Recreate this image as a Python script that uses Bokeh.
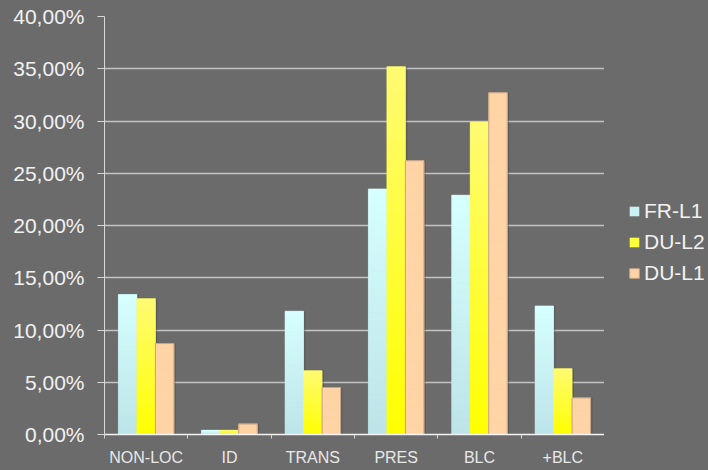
import numpy as np
from bokeh.plotting import figure
from bokeh.layouts import row
from bokeh.models import Range1d, FixedTicker, Legend, LegendItem
from bokeh.embed import file_html
from bokeh.resources import INLINE

# Share of each category per learner group (percent)
categories = ["NON-LOC", "ID", "TRANS", "PRES", "BLC", "+BLC"]
series_names = ["FR-L1", "DU-L2", "DU-L1"]
fr_l1 = [13.4, 0.4, 11.8, 23.5, 22.9, 12.3]
du_l2 = [13.0, 0.4, 6.1, 35.2, 29.9, 6.3]
du_l1 = [8.7, 1.0, 4.5, 26.2, 32.7, 3.5]
y_ticks = [0, 5, 10, 15, 20, 25, 30, 35, 40]

# gradient colours per series: (bottom, top)
grad = [("#bde4e8", "#d6ffff"), ("#ffff00", "#fffb72"), ("#ffd4a6", "#ffd4a6")]
mid = ["#c9f2f4", "#ffff3c", "#ffd4a6"]
edge = [None, None, "#c4a385"]

BG = "#6b6b6b"
FONT = "Liberation Sans"


def hex_to_rgb(h):
    h = h.lstrip("#")
    return np.array([int(h[i:i + 2], 16) for i in (0, 2, 4)], dtype=float)


def blend(c0, c1, t):
    c = hex_to_rgb(c0) * (1 - t) + hex_to_rgb(c1) * t
    return "#%02x%02x%02x" % tuple(int(round(v)) for v in c)


p = figure(width=604, height=470, output_backend="svg", toolbar_location=None,
           x_range=Range1d(0, len(categories)), y_range=Range1d(0, 40),
           min_border_left=104, min_border_right=0, min_border_top=16,
           min_border_bottom=36)
p.background_fill_color = BG
p.border_fill_color = BG
p.outline_line_color = None

# grid
p.xgrid.grid_line_color = None
p.ygrid.ticker = FixedTicker(ticks=y_ticks)
p.ygrid.grid_line_color = "#c2c2c2"
p.ygrid.grid_line_width = 1.5

# y axis
yax = p.yaxis[0]
yax.ticker = FixedTicker(ticks=y_ticks)
yax.major_label_overrides = {t: ("%.2f" % t).replace(".", ",") + "%" for t in y_ticks}
yax.axis_line_color = "#d8d8d8"
yax.major_tick_line_color = "#d8d8d8"
yax.major_tick_out = 7
yax.major_tick_in = 0
yax.minor_tick_line_color = None
yax.major_label_standoff = 13
yax.major_label_text_font = FONT
yax.major_label_text_font_size = "21px"
yax.major_label_text_color = "#f2f2f2"

# x axis: labels at group centres, small ticks at group boundaries
n = len(categories)
xax = p.xaxis[0]
centres = [i + 0.5 for i in range(n)]
xax.ticker = FixedTicker(ticks=centres, minor_ticks=list(range(n + 1)))
xax.major_label_overrides = {c: lab for c, lab in zip(centres, categories)}
xax.major_tick_out = 0
xax.major_tick_in = 0
xax.minor_tick_out = 4
xax.minor_tick_in = 0
xax.minor_tick_line_color = "#d8d8d8"
xax.axis_line_color = "#f4f4f4"
xax.axis_line_width = 1.5
xax.major_label_standoff = 10
xax.major_label_text_font = FONT
xax.major_label_text_font_size = "16px"
xax.major_label_text_color = "#e8e8e8"

bar_w = 0.222
all_series = [fr_l1, du_l2, du_l1]
N_SLICES = 30

for j, vals in enumerate(all_series):
    x_c = np.array([i + 0.5 + (j - 1) * bar_w for i in range(n)])
    left = x_c - bar_w / 2
    right = x_c + bar_w / 2
    vals = np.array(vals, dtype=float)
    # soft shadow on the right of each bar
    p.quad(left=left + 0.022, right=right + 0.022, bottom=0, top=vals,
           fill_color="#3c3c3c", fill_alpha=0.35, line_color=None)
    # full bar in its base colour
    p.quad(left=left, right=right, bottom=0, top=vals,
           fill_color=mid[j], line_color=None)
    # vertical gradient drawn as thin slices of each bar
    L, R, B, T, C = [], [], [], [], []
    for i in range(n):
        for k in range(N_SLICES):
            L.append(left[i]); R.append(right[i])
            B.append(vals[i] * k / N_SLICES)
            T.append(vals[i] * (k + 1) / N_SLICES)
            C.append(blend(grad[j][0], grad[j][1], (k + 0.5) / N_SLICES))
    p.quad(left=L, right=R, bottom=B, top=T, fill_color=C, line_color=C, line_width=0.6)
    if edge[j]:
        p.quad(left=left, right=right, bottom=0, top=vals, fill_alpha=0,
               line_color=edge[j], line_width=1)

# side panel holding the legend
lg = figure(width=104, height=470, output_backend="svg", toolbar_location=None,
            x_range=Range1d(0, 1), y_range=Range1d(0, 1),
            min_border_left=0, min_border_right=0, min_border_top=0,
            min_border_bottom=0)
lg.background_fill_color = BG
lg.border_fill_color = BG
lg.outline_line_color = None
lg.axis.visible = False
lg.grid.grid_line_color = None

# swatch proxies: one quad per series, placed outside the visible range
items = []
for j, name in enumerate(series_names):
    r = lg.quad(left=[-3], right=[-2], bottom=[-3], top=[-2], fill_color=mid[j],
                line_color=edge[j])
    items.append(LegendItem(label=name, renderers=[r]))

legend = Legend(items=items, location=(24, 149),
                background_fill_alpha=0, border_line_color=None,
                padding=0, margin=0, glyph_width=12, glyph_height=12,
                label_standoff=4, spacing=7,
                label_text_font=FONT, label_text_font_size="21px",
                label_text_color="#f2f2f2")
lg.add_layout(legend)

layout = row(p, lg, spacing=0)
layout.styles = {"background-color": BG}
open("out.html", "w").write(file_html(layout, INLINE))
